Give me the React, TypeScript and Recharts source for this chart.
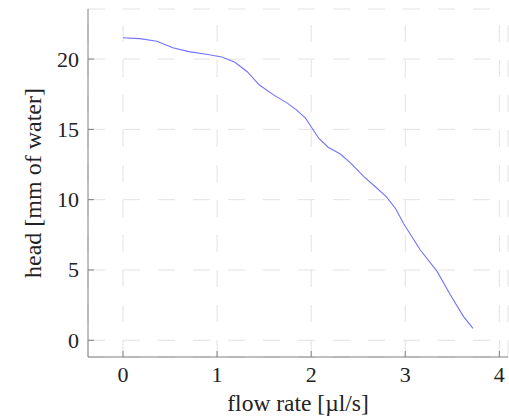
import React from "react";
import { LineChart, Line, XAxis, YAxis, CartesianGrid, Label } from "recharts";

const flowRate = [0, 0.18, 0.36, 0.53, 0.7, 0.9, 1.05, 1.19, 1.32, 1.45, 1.6, 1.75, 1.84, 1.94, 2.01, 2.08, 2.18, 2.31, 2.42, 2.56, 2.7, 2.8, 2.9, 2.98, 3.16, 3.34, 3.48, 3.62, 3.72];
const head = [21.52, 21.45, 21.27, 20.8, 20.53, 20.32, 20.15, 19.77, 19.1, 18.15, 17.45, 16.85, 16.4, 15.8, 15.08, 14.37, 13.73, 13.25, 12.6, 11.64, 10.81, 10.2, 9.34, 8.32, 6.42, 4.88, 3.22, 1.68, 0.85];
const xTicks = [0, 1, 2, 3, 4];
const yTicks = [0, 5, 10, 15, 20];
const xDomain = [-0.372, 4.092];
const yDomain = [-1.19, 23.56];

const data = flowRate.map((x, i) => ({ x, y: head[i] }));

const FONT = "'Liberation Serif', 'Times New Roman', serif";
const AXIS = "#808080";
const TEXT = "#222";
const GRID = "#e2e2e2";
const TICK_LEN = 6;

const textStyle = { fontFamily: FONT };

const BottomTick = (props: any) => {
  const { x, y, payload } = props;
  return (
    <g>
      <line x1={x} x2={x} y1={y} y2={y - TICK_LEN} stroke={AXIS} strokeWidth={1} />
      <text x={x} y={y + 25} textAnchor="middle" style={textStyle} fontSize={22} fill={TEXT}>
        {payload.value}
      </text>
    </g>
  );
};

const TopTick = (props: any) => {
  const { x, y } = props;
  return <line x1={x} x2={x} y1={y} y2={y + TICK_LEN} stroke={AXIS} strokeWidth={1} />;
};

const LeftTick = (props: any) => {
  const { x, y, payload } = props;
  return (
    <g>
      <line x1={x} x2={x + TICK_LEN} y1={y} y2={y} stroke={AXIS} strokeWidth={1} />
      <text x={x - 9} y={y + 7.5} textAnchor="end" style={textStyle} fontSize={22} fill={TEXT}>
        {payload.value}
      </text>
    </g>
  );
};

const RightTick = (props: any) => {
  const { x, y } = props;
  return <line x1={x} x2={x - TICK_LEN} y1={y} y2={y} stroke={AXIS} strokeWidth={1} />;
};

const VerticalGridLine = (props: any) => {
  const { x1, x2, y1, y2 } = props;
  const top = Math.min(y1, y2);
  const bottom = Math.max(y1, y2);
  return (
    <line x1={x1} x2={x2} y1={bottom} y2={top} stroke={GRID} strokeWidth={1} strokeDasharray="17 18" />
  );
};

const HorizontalGridLine = (props: any) => {
  const { x1, x2, y1, y2 } = props;
  return (
    <line x1={Math.min(x1, x2)} x2={Math.max(x1, x2)} y1={y1} y2={y2} stroke={GRID} strokeWidth={1} strokeDasharray="17 18" />
  );
};

export default function App() {
  return (
    <div style={{ position: "absolute", left: 0, top: 0, background: "#fff" }}>
      <LineChart width={509} height={419} data={data} margin={{ top: 9, right: 1, bottom: 0, left: 0 }}>
        <CartesianGrid
          xAxisId="bottom"
          yAxisId="left"
          vertical={VerticalGridLine}
          horizontal={HorizontalGridLine}
        />
        <XAxis
          xAxisId="bottom"
          dataKey="x"
          type="number"
          domain={xDomain}
          ticks={xTicks}
          allowDataOverflow
          height={62}
          tickSize={0}
          tickMargin={0}
          tickLine={false}
          axisLine={{ stroke: AXIS, strokeWidth: 1 }}
          tick={BottomTick}
          interval={0}
        >
          <Label
            content={(p: any) => {
              const vb = p.viewBox || { x: 88, width: 420 };
              return (
                <text x={vb.x + vb.width / 2} y={411} textAnchor="middle" style={textStyle} fontSize={23.5} fill={TEXT}>
                  flow rate [µl/s]
                </text>
              );
            }}
          />
        </XAxis>
        <XAxis
          xAxisId="top"
          orientation="top"
          dataKey="x"
          type="number"
          domain={xDomain}
          ticks={xTicks}
          allowDataOverflow
          height={0}
          tickSize={0}
          tickMargin={0}
          tickLine={false}
          axisLine={{ stroke: AXIS, strokeWidth: 1 }}
          tick={TopTick}
          interval={0}
        />
        <YAxis
          yAxisId="left"
          type="number"
          domain={yDomain}
          ticks={yTicks}
          allowDataOverflow
          width={88}
          tickSize={0}
          tickMargin={0}
          tickLine={false}
          axisLine={{ stroke: AXIS, strokeWidth: 1 }}
          tick={LeftTick}
          interval={0}
        >
          <Label
            content={(p: any) => {
              const vb = p.viewBox || { y: 9, height: 348 };
              const cy = vb.y + vb.height / 2;
              return (
                <text
                  x={41}
                  y={cy}
                  transform={`rotate(-90, 41, ${cy})`}
                  textAnchor="middle"
                  style={textStyle}
                  fontSize={24}
                  fill={TEXT}
                >
                  head [mm of water]
                </text>
              );
            }}
          />
        </YAxis>
        <YAxis
          yAxisId="right"
          orientation="right"
          type="number"
          domain={yDomain}
          ticks={yTicks}
          allowDataOverflow
          width={0}
          tickSize={0}
          tickMargin={0}
          tickLine={false}
          axisLine={{ stroke: AXIS, strokeWidth: 1 }}
          tick={RightTick}
          interval={0}
        />
        <Line
          xAxisId="bottom"
          yAxisId="left"
          type="linear"
          dataKey="y"
          stroke="#7272ff"
          strokeWidth={1.1}
          dot={false}
          isAnimationActive={false}
        />
      </LineChart>
    </div>
  );
}
